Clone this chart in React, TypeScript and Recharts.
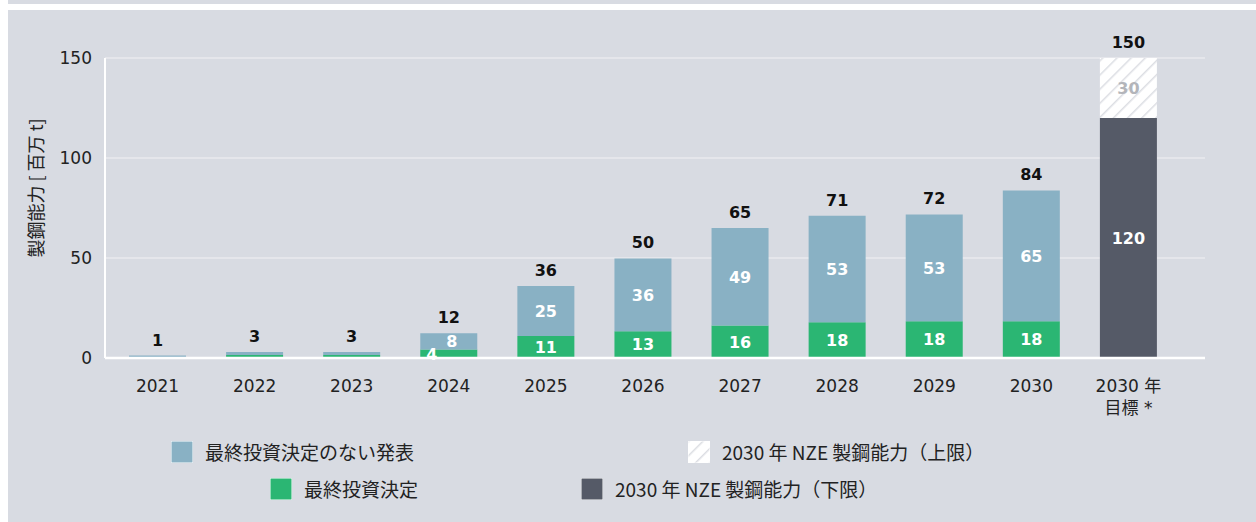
import React from "react";
import { BarChart, Bar, XAxis, YAxis, CartesianGrid, LabelList } from "recharts";

const categories = ["2021", "2022", "2023", "2024", "2025", "2026", "2027", "2028", "2029", "2030", "2030 年\n目標 *"];
const finalDecision = [0, 1.5, 1.5, 4.2, 11, 13.4, 16.2, 17.9, 18.4, 18.4, 0];
const announced = [1.2, 1.5, 1.5, 8.2, 25, 36.4, 48.8, 53.2, 53.4, 65.4, 0];
const nzeLower = [0, 0, 0, 0, 0, 0, 0, 0, 0, 0, 120];
const nzeUpper = [0, 0, 0, 0, 0, 0, 0, 0, 0, 0, 30];
const yTicks = [0, 50, 100, 150];

const BG = "#d8dbe2";
const GRID = "#e5e6eb";
const BLUE = "#89b1c4";
const GREEN = "#2bb673";
const DARK = "#555a67";
const NUM_FONT = "'DejaVu Sans', Verdana, 'Noto Sans CJK JP', sans-serif";
const JP_FONT = "'Noto Sans CJK JP', 'Noto Sans', sans-serif";

const data = categories.map((name, i) => ({
  name,
  fid: finalDecision[i],
  ann: announced[i],
  low: nzeLower[i],
  up: nzeUpper[i],
  total: Math.round(finalDecision[i] + announced[i] + nzeLower[i] + nzeUpper[i]),
}));

function segmentLabel(color: string, shift: number) {
  return (props: any) => {
    const { x, y, width, height, value } = props;
    if (!value || value < 3.5) return null;
    const dx = height < 20 ? shift : 0;
    return (
      <text
        x={x + width / 2 + dx}
        y={y + height / 2}
        dy="0.36em"
        textAnchor="middle"
        fill={color}
        fontWeight="bold"
        fontSize={16}
        fontFamily={NUM_FONT}
      >
        {Math.round(value)}
      </text>
    );
  };
}

// empty segments get no label, so the total lands on the top non-empty one
function totalLabel(props: any) {
  const { x, y, width, value } = props;
  return (
    <text x={x + width / 2} y={y - 10} textAnchor="middle" fill="#111" fontWeight="bold" fontSize={16} fontFamily={NUM_FONT}>
      {value}
    </text>
  );
}

function XTick(props: any) {
  const { x, y, payload } = props;
  const lines = String(payload.value).split("\n");
  return (
    <text x={x} y={y} textAnchor="middle" fill="#222" fontSize={17} fontFamily={NUM_FONT}>
      {lines.map((l, i) => (
        <tspan key={i} x={x} dy={i === 0 ? 34 : 22}>
          {l}
        </tspan>
      ))}
    </text>
  );
}

function YLabel(props: any) {
  const { viewBox } = props;
  const cx = viewBox.x + 37;
  const cy = viewBox.y + viewBox.height / 2 - 20;
  return (
    <text x={cx} y={cy} transform={`rotate(-90, ${cx}, ${cy})`} textAnchor="middle" dy="0.36em" fill="#222" fontSize={18} fontFamily={JP_FONT}>
      製鋼能力 [ 百万 t]
    </text>
  );
}

function Swatch({ color, hatch }: { color?: string; hatch?: boolean }) {
  return (
    <svg width={22} height={22} style={{ display: "block" }}>
      <defs>
        <pattern id="legendHatch" patternUnits="userSpaceOnUse" width={10} height={10} patternTransform="rotate(45)">
          <rect width={10} height={10} fill="#fff" />
          <line x1={0} y1={0} x2={0} y2={10} stroke="#dcdee3" strokeWidth={3} />
        </pattern>
      </defs>
      <rect x={0} y={0} width={22} height={22} fill={hatch ? "url(#legendHatch)" : color} stroke="#fff" strokeWidth={1} />
    </svg>
  );
}

function LegendItem({ left, top, label, color, hatch }: { left: number; top: number; label: string; color?: string; hatch?: boolean }) {
  return (
    <div style={{ position: "absolute", left, top, display: "flex", alignItems: "center", gap: 12 }}>
      <Swatch color={color} hatch={hatch} />
      <span style={{ fontFamily: JP_FONT, fontSize: 19, color: "#222", whiteSpace: "nowrap", lineHeight: "22px" }}>{label}</span>
    </div>
  );
}

export default function App() {
  return (
    <div style={{ position: "relative", width: 1256, height: 522, background: "#fff", overflow: "hidden" }}>
      <style>{"body{margin:0}"}</style>
      <div style={{ position: "absolute", left: 8, top: 0, width: 1248, height: 4, background: BG }} />
      <div style={{ position: "absolute", left: 8, top: 10, width: 1248, height: 512, background: BG }} />
      <div style={{ position: "absolute", left: 0, top: 0 }}>
        <BarChart width={1256} height={430} data={data} margin={{ top: 58, right: 51, left: 0, bottom: 12 }}>
          <defs>
            <pattern id="hatch" patternUnits="userSpaceOnUse" width={10} height={10} patternTransform="rotate(45)">
              <rect width={10} height={10} fill="#fff" />
              <line x1={0} y1={0} x2={0} y2={10} stroke="#dcdee3" strokeWidth={3} />
            </pattern>
          </defs>
          <CartesianGrid vertical={false} stroke={GRID} strokeWidth={2} />
          <XAxis
            dataKey="name"
            interval={0}
            height={60}
            padding={{ left: 4, right: 28 }}
            tickLine={false}
            tickSize={0}
            tickMargin={0}
            axisLine={{ stroke: "#fff", strokeWidth: 2.5 }}
            tick={<XTick />}
          />
          <YAxis
            width={105}
            domain={[0, 150]}
            ticks={yTicks}
            tickLine={false}
            tickSize={0}
            tickMargin={13}
            axisLine={{ stroke: "#fff", strokeWidth: 2 }}
            tick={{ fontSize: 17, fill: "#222", fontFamily: NUM_FONT }}
            label={<YLabel />}
          />
          <Bar dataKey="fid" stackId="a" fill={GREEN} barSize={57} isAnimationActive={false}>
            <LabelList dataKey="fid" content={segmentLabel("#fff", -17)} />
          </Bar>
          <Bar dataKey="ann" stackId="a" fill={BLUE} barSize={57} isAnimationActive={false}>
            <LabelList dataKey="ann" content={segmentLabel("#fff", 3)} />
            <LabelList dataKey="total" content={totalLabel} />
          </Bar>
          <Bar dataKey="low" stackId="a" fill={DARK} barSize={57} isAnimationActive={false}>
            <LabelList dataKey="low" content={segmentLabel("#fff", 0)} />
          </Bar>
          <Bar dataKey="up" stackId="a" fill="url(#hatch)" barSize={57} isAnimationActive={false}>
            <LabelList dataKey="up" content={segmentLabel("#b3b5ba", 0)} />
            <LabelList dataKey="total" content={totalLabel} />
          </Bar>
        </BarChart>
      </div>
      <LegendItem left={171} top={441} label="最終投資決定のない発表" color={BLUE} />
      <LegendItem left={688} top={441} label="2030 年 NZE 製鋼能力（上限）" hatch />
      <LegendItem left={270} top={478} label="最終投資決定" color={GREEN} />
      <LegendItem left={581} top={478} label="2030 年 NZE 製鋼能力（下限）" color={DARK} />
    </div>
  );
}
